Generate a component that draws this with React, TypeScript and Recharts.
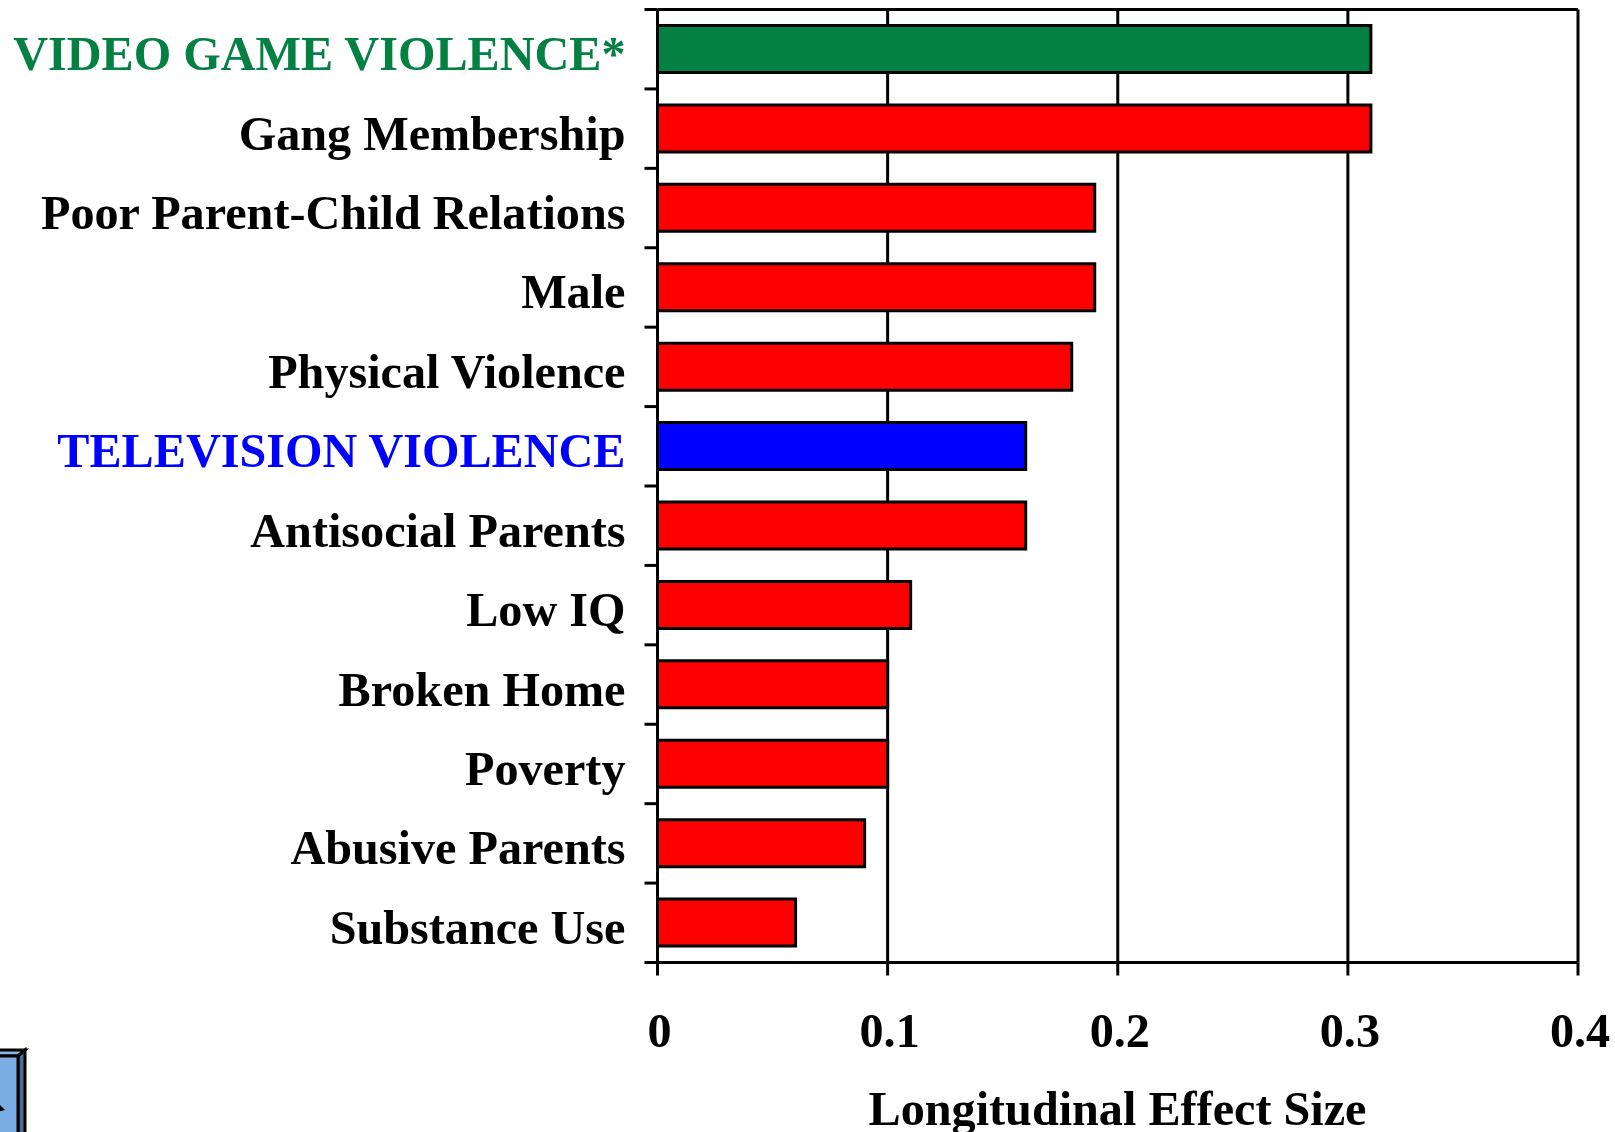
import React from "react";
import { BarChart, Bar, XAxis, YAxis, CartesianGrid, Cell, Customized } from "recharts";

const categories = ["VIDEO GAME VIOLENCE*", "Gang Membership", "Poor Parent-Child Relations", "Male", "Physical Violence", "TELEVISION VIOLENCE", "Antisocial Parents", "Low IQ", "Broken Home", "Poverty", "Abusive Parents", "Substance Use"];
const values = [0.31, 0.31, 0.19, 0.19, 0.18, 0.16, 0.16, 0.11, 0.1, 0.1, 0.09, 0.06];
const barColors = ["#048043", "#ff0000", "#ff0000", "#ff0000", "#ff0000", "#0000ff", "#ff0000", "#ff0000", "#ff0000", "#ff0000", "#ff0000", "#ff0000"];
const labelColors = ["#048043", "#000000", "#000000", "#000000", "#000000", "#0000ff", "#000000", "#000000", "#000000", "#000000", "#000000", "#000000"];
const xTicks = [0, 0.1, 0.2, 0.3, 0.4];
const xTitle = "Longitudinal Effect Size";

const data = categories.map((name, i) => ({ name, value: values[i] }));
const FONT = "'Liberation Serif', 'Times New Roman', serif";
const BAND = 953 / 12;

const YTick = (props: any) => {
  const { x, y, payload, index } = props;
  return (
    <g>
      <line x1={x - 13} x2={x} y1={y - BAND / 2} y2={y - BAND / 2} stroke="#000" strokeWidth={3} />
      {index === categories.length - 1 && (
        <line x1={x - 13} x2={x} y1={y + BAND / 2} y2={y + BAND / 2} stroke="#000" strokeWidth={3} />
      )}
      <text x={x - 32} y={y + 21} textAnchor="end" fontFamily={FONT} fontWeight="bold" fontSize={48.2} fill={labelColors[index]}>
        {payload.value}
      </text>
    </g>
  );
};

const XTick = (props: any) => {
  const { x, y, payload } = props;
  return (
    <text x={x + 2} y={y + 69} textAnchor="middle" fontFamily={FONT} fontWeight="bold" fontSize={48.2} fill="#000">
      {payload.value}
    </text>
  );
};

const Icon = () => (
  <g stroke="#000" strokeWidth={3} strokeLinejoin="miter">
    <polygon points="-5,1050 25,1050 18,1056 -5,1056" fill="#8db4e2" />
    <polygon points="18,1056 25,1050 25,1136 18,1136" fill="#4a6f96" />
    <rect x={-5} y={1056} width={23} height={80} fill="#7aade4" />
    <polygon points="-3,1112 0,1105 5,1110" fill="#000" stroke="none" />
  </g>
);

export default function App() {
  return (
    <div style={{ position: "absolute", left: 0, top: 0, width: 1615, height: 1132, background: "#fff", overflow: "hidden" }}>
      <BarChart
        width={1615}
        height={1132}
        data={data}
        layout="vertical"
        margin={{ top: 9.5, right: 37, bottom: 0, left: 0 }}
        barCategoryGap="0%"
      >
        <CartesianGrid stroke="#000" strokeWidth={3} horizontalPoints={[9.5]} />
        <XAxis
          type="number"
          domain={[0, 0.4]}
          ticks={xTicks}
          interval={0}
          axisLine={{ stroke: "#000", strokeWidth: 3 }}
          tickLine={{ stroke: "#000", strokeWidth: 3 }}
          tickSize={13}
          tick={<XTick />}
          height={169.5}
        />
        <YAxis
          type="category"
          dataKey="name"
          width={657.5}
          interval={0}
          axisLine={{ stroke: "#000", strokeWidth: 3 }}
          tickLine={false}
          tickSize={0}
          tickMargin={0}
          tick={<YTick />}
        />
        <Bar dataKey="value" barSize={47} stroke="#000" strokeWidth={3} isAnimationActive={false}>
          {data.map((d, i) => (
            <Cell key={d.name} fill={barColors[i]} />
          ))}
        </Bar>
        <Customized component={Icon} />
        <text x={1117.5} y={1124.5} textAnchor="middle" fontFamily={FONT} fontWeight="bold" fontSize={48.2} fill="#000">
          {xTitle}
        </text>
      </BarChart>
    </div>
  );
}
